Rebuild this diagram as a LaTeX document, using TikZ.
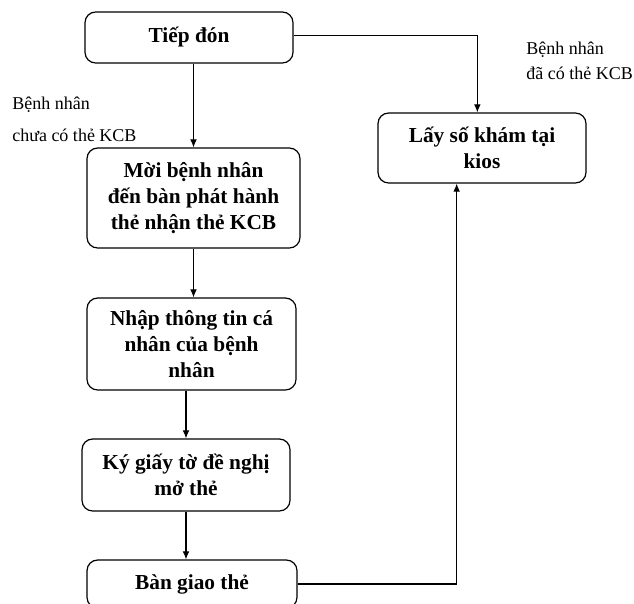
\documentclass[tikz,border=0pt]{standalone}
\usepackage{fontspec}
\setmainfont{Liberation Serif}
\usepackage{tikz}
\usetikzlibrary{arrows.meta}

\tikzset{
    khung/.style={draw, line width=0.9pt, rounded corners=8pt, align=center,
        font=\fontsize{16}{19.5}\selectfont\bfseries, inner sep=0pt},
    nhan/.style={anchor=west, inner sep=0pt, font=\fontsize{13.5}{15}\selectfont},
    mui/.style={line width=0.8pt, -{Latex[length=6pt,width=5pt]}}
}

\begin{document}
\begin{tikzpicture}[x=0.75pt, y=-0.75pt]
            \useasboundingbox (0, 0) rectangle (634, 603);

            \node[khung, minimum width=208*0.75pt, minimum height=51*0.75pt] (tiep) at (189, 37.5) {Tiếp đón};
            \node[khung, minimum width=213*0.75pt, minimum height=100*0.75pt] (moi) at (193.5, 198) {Mời bệnh nhân\\đến bàn phát hành\\thẻ nhận thẻ KCB};
            \node[khung, minimum width=209*0.75pt, minimum height=92*0.75pt] (nhap) at (191.5, 344) {Nhập thông tin cá\\nhân của bệnh\\nhân};
            \node[khung, minimum width=208*0.75pt, minimum height=72*0.75pt] (ky) at (186, 475) {Ký giấy tờ đề nghị\\mở thẻ};
            \node[khung, minimum width=210*0.75pt, minimum height=48*0.75pt] (giao) at (192, 584) {Bàn giao thẻ};
            \node[khung, minimum width=208*0.75pt, minimum height=70*0.75pt] (layso) at (482, 148) {Lấy số khám tại\\kios};

            \node[nhan] (chua1) at (12, 105) {Bệnh nhân};
            \node[nhan] (chua2) at (12, 135) {chưa có thẻ KCB};
            \node[nhan] (da1) at (526, 50) {Bệnh nhân};
            \node[nhan] (da2) at (526, 73) {đã có thẻ KCB};

            \draw[mui] (tiep.south -| moi.north) -- (moi.north);
            \draw[mui] (moi.south) -- (moi.south |- nhap.north);
            \draw[mui] (ky.north |- nhap.south) -- (ky.north);
            \draw[mui] (ky.south) -- (ky.south |- giao.north);

            \draw[mui] ([yshift=1.5pt]tiep.east) -| ([xshift=-3.5pt]layso.north);
            \draw[mui] (giao.east) -| ([xshift=-19pt]layso.south);
        \end{tikzpicture}
\end{document}
